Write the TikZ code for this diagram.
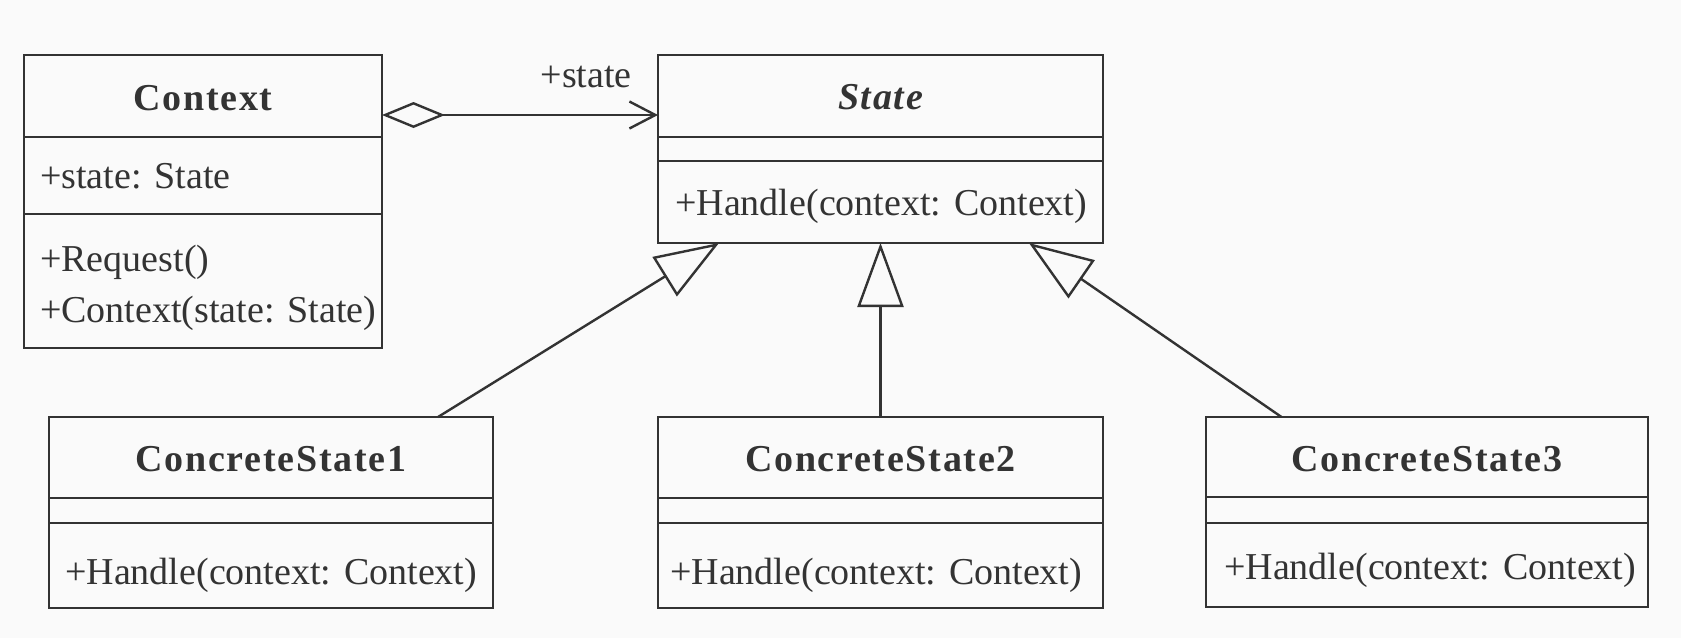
\documentclass[tikz,border=0pt]{standalone}
\usepackage{fontspec}
\setmainfont{Liberation Serif}
\usetikzlibrary{arrows.meta,calc}
\definecolor{ink}{HTML}{333333}
\definecolor{paper}{HTML}{FAFAFA}
\begin{document}
\begin{tikzpicture}[x=1pt,y=-1pt,
  box/.style={draw=ink, line width=2.4pt, anchor=north west, inner sep=0pt, outer sep=0pt},
  divider/.style={draw=ink, line width=2.4pt},
  title/.style={text=ink, font=\fontsize{38}{46}\selectfont\bfseries\addfontfeatures{LetterSpace=4.5}, inner sep=0pt, text height=25pt, text depth=0pt, anchor=center},
  atitle/.style={title, font=\fontsize{38}{46}\selectfont\bfseries\itshape\addfontfeatures{LetterSpace=4.5}},
  member/.style={text=ink, font=\fontsize{38}{46}\selectfont, inner sep=0pt, text height=25pt, text depth=0pt, anchor=west},
  gen/.style={draw=ink, line width=2.4pt, -{Triangle[open, length=64pt, width=46pt]}},
  assoc/.style={draw=ink, line width=2.4pt, {Diamond[open, length=63pt, width=26pt]}-{Straight Barb[length=26pt, width=27pt]}}
]
\fill[paper] (0,0) rectangle (1681,638);
\useasboundingbox (0,0) rectangle (1681,638);

% Context
\node[box, minimum width=358pt, minimum height=293pt] (ctx) at (24,55) {};
\draw[divider] ($(ctx.north west)+(0,82)$) -- ($(ctx.north east)+(0,82)$);
\draw[divider] ($(ctx.north west)+(0,159)$) -- ($(ctx.north east)+(0,159)$);
\node[title] (ctxt) at ($(ctx.north)+(0,43)$) {Context};
\node[member] (ctxa) at ($(ctx.north west)+(16,121)$) {+state: State};
\node[member] (ctxm1) at ($(ctx.north west)+(16,204)$) {+Request()};
\node[member] (ctxm2) at ($(ctx.north west)+(16,255)$) {+Context(state: State)};

% State
\node[box, minimum width=445pt, minimum height=188pt] (st) at (658,55) {};
\draw[divider] ($(st.north west)+(0,82)$) -- ($(st.north east)+(0,82)$);
\draw[divider] ($(st.north west)+(0,106)$) -- ($(st.north east)+(0,106)$);
\node[atitle] (stt) at ($(st.north)+(0,42)$) {State};
\node[member] (stm) at ($(st.north west)+(17,148)$) {+Handle(context: Context)};

% ConcreteState1
\node[box, minimum width=444pt, minimum height=191pt] (cs1) at (49,417) {};
\draw[divider] ($(cs1.north west)+(0,81)$) -- ($(cs1.north east)+(0,81)$);
\draw[divider] ($(cs1.north west)+(0,106)$) -- ($(cs1.north east)+(0,106)$);
\node[title] (cs1t) at ($(cs1.north)+(0,42)$) {ConcreteState1};
\node[member] (cs1m) at ($(cs1.north west)+(16,155)$) {+Handle(context: Context)};

% ConcreteState2
\node[box, minimum width=445pt, minimum height=191pt] (cs2) at (658,417) {};
\draw[divider] ($(cs2.north west)+(0,81)$) -- ($(cs2.north east)+(0,81)$);
\draw[divider] ($(cs2.north west)+(0,106)$) -- ($(cs2.north east)+(0,106)$);
\node[title] (cs2t) at ($(cs2.north)+(0,42)$) {ConcreteState2};
\node[member] (cs2m) at ($(cs2.north west)+(12,155)$) {+Handle(context: Context)};

% ConcreteState3
\node[box, minimum width=442pt, minimum height=190pt] (cs3) at (1206,417) {};
\draw[divider] ($(cs3.north west)+(0,80)$) -- ($(cs3.north east)+(0,80)$);
\draw[divider] ($(cs3.north west)+(0,106)$) -- ($(cs3.north east)+(0,106)$);
\node[title] (cs3t) at ($(cs3.north)+(0,42)$) {ConcreteState3};
\node[member] (cs3m) at ($(cs3.north west)+(18,150)$) {+Handle(context: Context)};

% association
\draw[assoc] ([yshift=-60pt]ctx.north east) -- ([yshift=-60pt]st.north west);
\node[member, anchor=east] (lbl) at ($(st.north west)+(-26,20)$) {+state};

% generalizations
\draw[gen] ([xshift=167pt]cs1.north) -- ([xshift=-161.5pt]st.south);
\draw[gen] (cs2.north) -- (st.south);
\draw[gen] ([xshift=-145.5pt]cs3.north) -- ([xshift=148.5pt]st.south);
\end{tikzpicture}
\end{document}
